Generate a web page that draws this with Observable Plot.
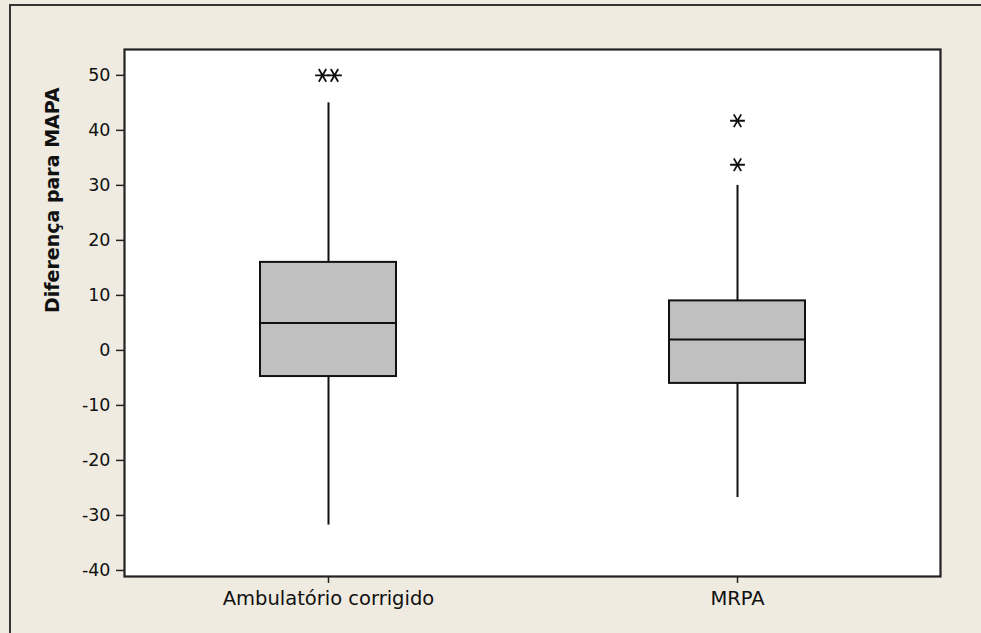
<!DOCTYPE html>
<html>
<head>
<meta charset="utf-8">
<script src="https://cdn.jsdelivr.net/npm/d3@7"></script>
<script src="https://cdn.jsdelivr.net/npm/@observablehq/plot@0.6"></script>
<style>
  html, body { margin: 0; padding: 0; background: #efebe0; }
  #wrap { position: relative; width: 981px; height: 633px; overflow: hidden; background: #efebe0; }
  #edge { position: absolute; left: 9px; top: 4px; right: -5px; bottom: -5px; border-top: 2px solid #333; border-left: 2px solid #333; }
  #chart { position: absolute; left: 0; top: 0; }
  svg { font-family: "DejaVu Sans", sans-serif; }
</style>
</head>
<body>
<div id="wrap"><div id="edge"></div><div id="chart"></div></div>
<script>
const categories = ["Ambulatório corrigido", "MRPA"];
const q1 = [-4.75, -6];
const median = [5, 2];
const q3 = [16, 9];
const whiskerLow = [-31.75, -26.75];
const whiskerHigh = [45, 30];
const outlierCategory = ["Ambulatório corrigido", "Ambulatório corrigido", "MRPA", "MRPA"];
const outlierValue = [50, 50, 41.75, 33.75];
const yTicks = [-40, -30, -20, -10, 0, 10, 20, 30, 40, 50];
const yLabel = "Diferença para MAPA";

const boxes = categories.map((c, i) => ({cat: c, q1: q1[i], med: median[i], q3: q3[i], lo: whiskerLow[i], hi: whiskerHigh[i]}));

// tied outliers are placed side by side
const outliers = outlierCategory.map((c, i) => ({cat: c, v: outlierValue[i]}));
const groups = d3.group(outliers, d => d.cat + "|" + d.v);
for (const g of groups.values()) g.forEach((d, k) => { d.slot = k - (g.length - 1) / 2; });
const slots = Array.from(new Set(outliers.map(d => d.slot)));

const chart = Plot.plot({
  width: 981,
  height: 633,
  marginLeft: 124,
  marginRight: 41,
  marginTop: 49,
  marginBottom: 57,
  style: {background: "transparent", fontFamily: "DejaVu Sans, sans-serif", color: "#111"},
  x: {domain: categories, type: "band", paddingInner: 0.6675, paddingOuter: 0.331, label: null},
  y: {domain: [-41.1, 54.7], label: null},
  marks: [
    Plot.frame({fill: "white"}),
    Plot.ruleX(boxes, {x: "cat", y1: "q3", y2: "hi", stroke: "#111", strokeWidth: 2}),
    Plot.ruleX(boxes, {x: "cat", y1: "lo", y2: "q1", stroke: "#111", strokeWidth: 2}),
    Plot.barY(boxes, {x: "cat", y1: "q1", y2: "q3", fill: "#c0c0c0", stroke: "#111", strokeWidth: 2}),
    Plot.tickY(boxes, {x: "cat", y: "med", stroke: "#111", strokeWidth: 2}),
    ...slots.map(s => Plot.dot(outliers.filter(d => d.slot === s), {
      x: "cat", y: "v", symbol: "asterisk", r: 7, rotate: 90, stroke: "#111", strokeWidth: 1.8, dx: s * 12
    })),
    Plot.frame({stroke: "#222", strokeWidth: 2.2}),
    Plot.axisY(yTicks, {tickSize: 8, tickPadding: 6, fontSize: 17.5, stroke: "#222", strokeWidth: 1.5, fill: "#111", label: null, tickFormat: d => String(d)}),
    Plot.axisX({tickSize: 7, tickPadding: 8, fontSize: 19.5, stroke: "#222", strokeWidth: 1.5, fill: "#111", label: null}),
    Plot.text([yLabel], {frameAnchor: "left", rotate: -90, dx: -72, fontSize: 19, fontWeight: "bold", fill: "#111"})
  ]
});
document.getElementById("chart").appendChild(chart);
</script>
</body>
</html>
